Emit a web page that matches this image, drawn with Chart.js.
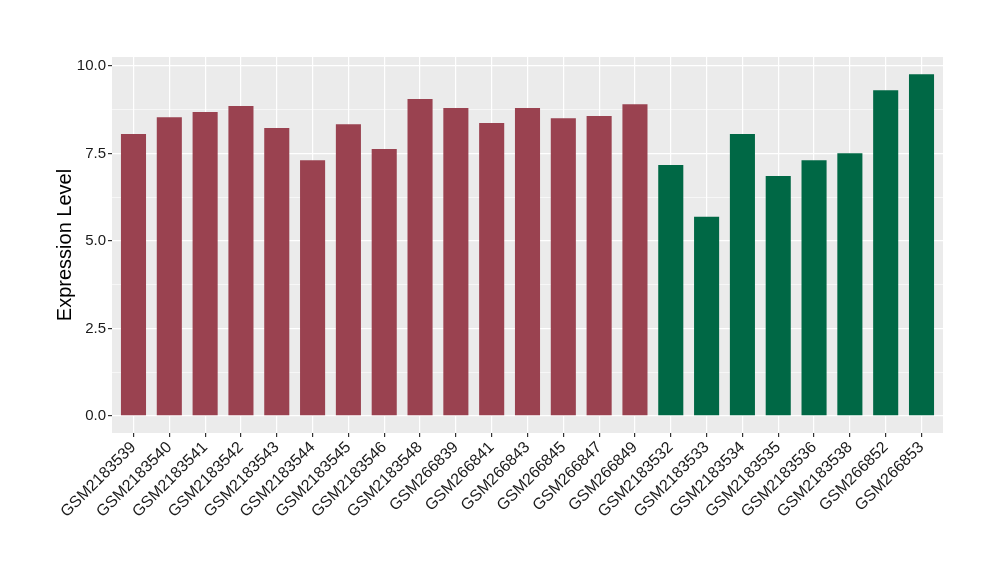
<!DOCTYPE html>
<html>
<head>
<meta charset="utf-8">
<script src="https://cdn.jsdelivr.net/npm/chart.js@4/dist/chart.umd.min.js"></script>
<style>
  html, body { margin: 0; padding: 0; background: #fff; }
  #wrap { width: 1000px; height: 580px; }
</style>
</head>
<body>
<div id="wrap"><canvas id="myChart" width="1000" height="580"></canvas></div>
<script>
const samples = ["GSM2183539", "GSM2183540", "GSM2183541", "GSM2183542", "GSM2183543",
  "GSM2183544", "GSM2183545", "GSM2183546", "GSM2183548", "GSM266839", "GSM266841",
  "GSM266843", "GSM266845", "GSM266847", "GSM266849", "GSM2183532", "GSM2183533",
  "GSM2183534", "GSM2183535", "GSM2183536", "GSM2183538", "GSM266852", "GSM266853"];
const expression = [8.06, 8.54, 8.69, 8.86, 8.23, 7.31, 8.34, 7.63, 9.06, 8.80, 8.37,
  8.80, 8.51, 8.57, 8.91, 7.17, 5.69, 8.06, 6.86, 7.31, 7.51, 9.31, 9.77];
const groups = ["a", "a", "a", "a", "a", "a", "a", "a", "a", "a", "a", "a", "a", "a", "a",
  "b", "b", "b", "b", "b", "b", "b", "b"];
const groupColors = { a: "#9A4250", b: "#006845" };
const yTicks = [0, 2.5, 5, 7.5, 10];
const yMinor = [1.25, 3.75, 6.25, 8.75];

// grey panel like ggplot
const panelBg = {
  id: "panelBg",
  beforeDraw(chart) {
    const { ctx, chartArea: a } = chart;
    ctx.save();
    ctx.fillStyle = "#EBEBEB";
    ctx.fillRect(a.left, a.top, a.right - a.left, a.bottom - a.top);
    ctx.restore();
  }
};

const points = expression.map((v, i) => ({ x: i + 1, y: v }));

const config = {
  type: "bar",
  data: {
    datasets: [{
      data: points,
      backgroundColor: groups.map(g => groupColors[g]),
      borderWidth: 0,
      barPercentage: 0.7,
      categoryPercentage: 1.0,
    }],
  },
  options: {
    responsive: false,
    animation: false,
    layout: { padding: { left: 49, right: 57, top: 57, bottom: 0 } },
    plugins: { legend: { display: false }, tooltip: { enabled: false } },
    scales: {
      x: {
        type: "linear",
        min: 0.4,
        max: 23.6,
        offset: false,
        afterBuildTicks(scale) {
          scale.ticks = samples.map((_, i) => ({ value: i + 1 }));
        },
        afterFit(scale) { scale.height = 147; },
        grid: { offset: false, color: "#FFFFFF", lineWidth: 1.2, tickLength: 4, tickColor: "#333333", drawOnChartArea: true },
        border: { display: false },
        ticks: {
          autoSkip: false,
          minRotation: 45,
          maxRotation: 45,
          padding: 1,
          color: "#1a1a1a",
          font: { family: "Liberation Sans", size: 16 },
          callback: (v) => samples[Math.round(v) - 1],
        },
      },
      y: {
        min: -0.49,
        max: 10.26,
        afterBuildTicks(scale) {
          scale.ticks = yTicks.concat(yMinor).sort((a, b) => a - b).map(v => ({ value: v }));
        },
        afterFit(scale) { scale.width = 63; },
        grid: {
          color: "#FFFFFF",
          lineWidth: (c) => (yTicks.includes(c.tick && c.tick.value) ? 1.2 : 0.6),
          tickLength: 4,
          tickColor: (c) => (yTicks.includes(c.tick && c.tick.value) ? "#333333" : "rgba(0,0,0,0)"),
        },
        border: { display: false },
        ticks: {
          padding: 2,
          color: "#1a1a1a",
          font: { family: "Liberation Sans", size: 15 },
          callback: (v) => (yTicks.includes(v) ? v.toFixed(1) : ""),
        },
        title: {
          display: true,
          text: "Expression Level",
          color: "#000000",
          font: { family: "Liberation Sans", size: 20 },
          padding: { top: 4, bottom: 4 },
        },
      },
    },
  },
  plugins: [panelBg],
};

const myChart = new Chart(document.getElementById("myChart"), config);
</script>
</body>
</html>
